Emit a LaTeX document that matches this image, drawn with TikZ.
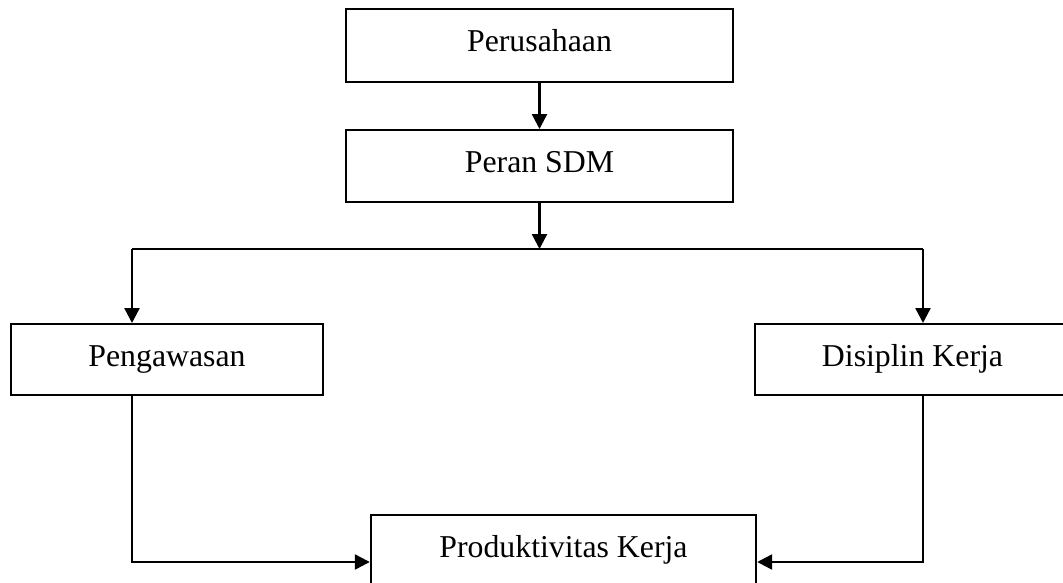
\documentclass[tikz,border=0pt]{standalone}
\usepackage{fontspec}
\setmainfont{Liberation Serif}
\usetikzlibrary{arrows.meta}
\begin{document}
\begin{tikzpicture}[x=1pt,y=-1pt,
  box/.style={draw,line width=2.4pt,anchor=north,inner xsep=0pt,inner ysep=0pt,
    font=\fontsize{31.8}{38}\selectfont,text height=42pt},
  conn/.style={line width=2.4pt,-{Triangle[length=15pt,width=15pt]}},
  plain/.style={line width=2.4pt}]
\useasboundingbox (0,0) rectangle (1063,582);
\node[box,minimum width=387pt,text depth=31pt] (per) at (539.5,8) {Perusahaan};
\node[box,minimum width=387pt,text depth=30pt] (sdm) at (539.5,129) {Peran SDM};
\node[box,minimum width=312pt,text depth=29pt] (peng) at (167,323) {Pengawasan};
\node[box,minimum width=315pt,text depth=29pt] (dis) at (912.5,323) {Disiplin Kerja};
\node[box,minimum width=385pt,text depth=29pt] (prod) at (563.5,514) {Produktivitas Kerja};
\coordinate (j) at (539.5,249);
\coordinate (lt) at (132,249);
\coordinate (rt) at (923,249);
\coordinate (lb) at (132,562);
\coordinate (rb) at (923,562);
\draw[conn] (per.south) -- (sdm.north);
\draw[conn] (sdm.south) -- (j);
\draw[plain] (lt) -- (rt);
\draw[conn] (lt) -- (lt |- peng.north);
\draw[conn] (rt) -- (rt |- dis.north);
\draw[conn] (lb |- peng.south) -- (lb) -- (prod.west |- lb);
\draw[conn] (rb |- dis.south) -- (rb) -- (prod.east |- rb);
\end{tikzpicture}
\end{document}
